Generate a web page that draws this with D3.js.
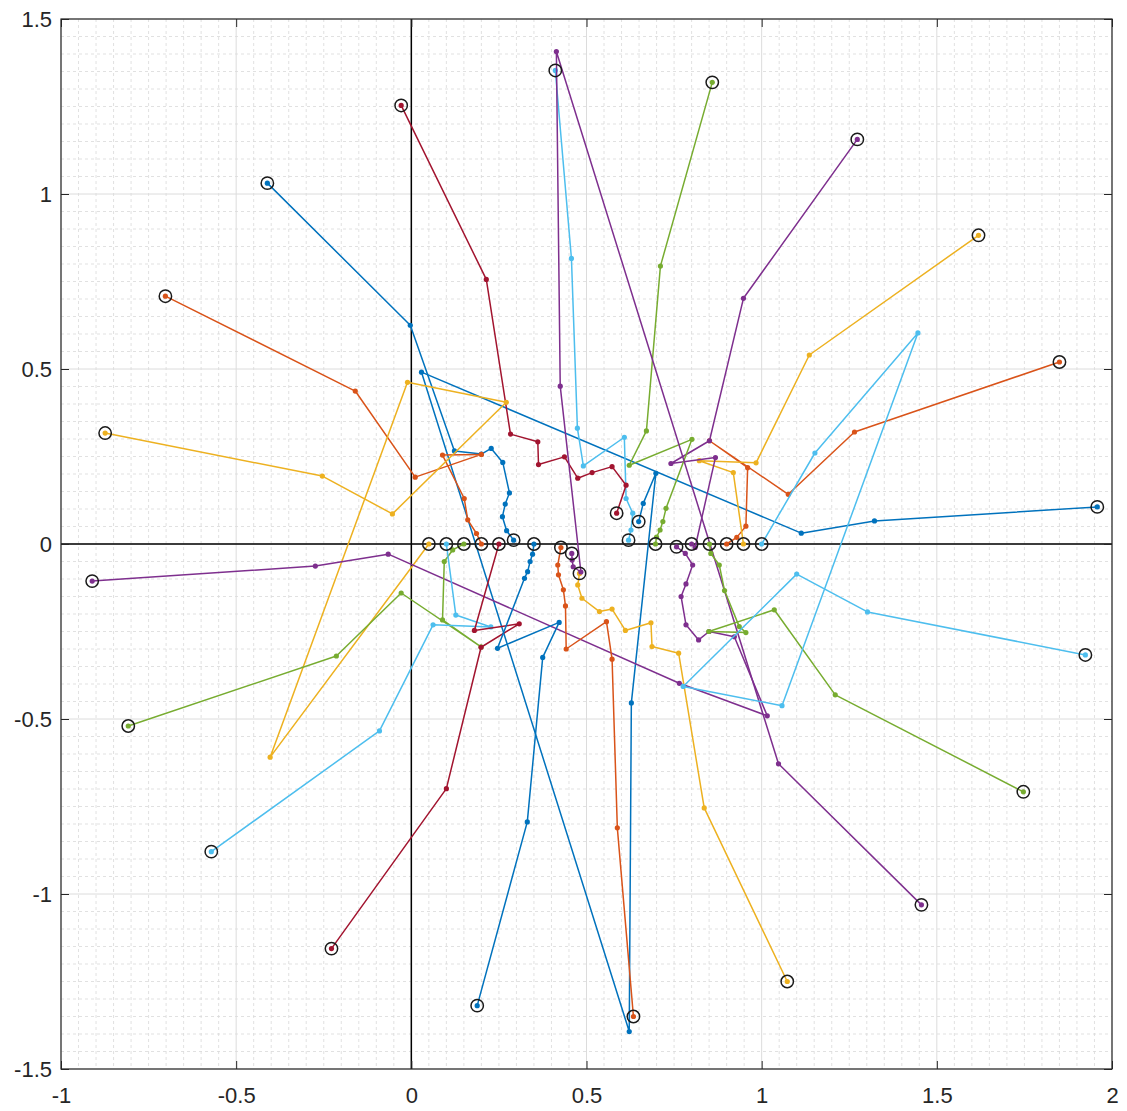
<!DOCTYPE html>
<html lang="en">
<head>
<meta charset="UTF-8">
<title>Trajectories</title>
<script src="https://cdn.jsdelivr.net/npm/d3@7"></script>
<style>
    body { margin: 0; background: #fff; }
    .tick text { font-family: "Liberation Sans", Arial, sans-serif; font-size: 22px; fill: #262626; }
</style>
</head>
<body>
<div id="chart"></div>
<script>
// tick labels
var xTicks = [-1, -0.5, 0, 0.5, 1, 1.5, 2];
var yTicks = [-1.5, -1, -0.5, 0, 0.5, 1, 1.5];

// series colors (cycle order)
var colors = ["#0072BD", "#D95319", "#EDB120", "#7E2F8E", "#77AC30", "#4DBEEE", "#A2142F"];

// trajectories: each is a list of [x, y], first = start, last = end
var t01 = [[1.958,0.106],[1.322,0.066],[1.113,0.031],[0.029,0.491],[0.622,-1.393],[0.628,-0.454],[0.698,0.202],[0.662,0.116],[0.649,0.064]];
var t02 = [[1.85,0.52],[1.265,0.32],[1.076,0.142],[0.851,0.295],[0.96,0.218],[0.955,0.051],[0.929,0.019],[0.9,0]];
var t03 = [[1.619,0.882],[1.136,0.54],[0.984,0.232],[0.822,0.238],[0.919,0.204],[0.948,0]];
var t04 = [[1.273,1.156],[0.948,0.702],[0.851,0.295],[0.741,0.23],[0.868,0.247],[0.81,-0.01],[0.8,0]];
var t05 = [[0.859,1.319],[0.711,0.794],[0.671,0.323],[0.622,0.225],[0.801,0.299],[0.727,0.102],[0.718,0.064],[0.71,0.04],[0.70,0.02],[0.697,0]];
var t06 = [[0.411,1.353],[0.457,0.816],[0.474,0.331],[0.491,0.223],[0.608,0.305],[0.613,0.13],[0.632,0.088],[0.627,0.04],[0.62,0.011]];
var t07 = [[-0.029,1.253],[0.214,0.756],[0.283,0.314],[0.361,0.292],[0.363,0.227],[0.437,0.249],[0.475,0.188],[0.516,0.204],[0.573,0.221],[0.613,0.168],[0.586,0.088]];
var t08 = [[-0.411,1.031],[-0.003,0.625],[0.123,0.266],[0.2,0.257],[0.228,0.273],[0.261,0.233],[0.28,0.146],[0.268,0.114],[0.26,0.078],[0.272,0.038],[0.292,0.011]];
var t09 = [[-0.702,0.708],[-0.16,0.437],[0.011,0.191],[0.2,0.256],[0.089,0.254],[0.151,0.13],[0.161,0.069],[0.186,0.03],[0.2,0]];
var t10 = [[-0.874,0.317],[-0.254,0.194],[-0.054,0.086],[0.271,0.405],[-0.011,0.462],[-0.403,-0.609],[0.05,0]];
var t11 = [[-0.911,-0.106],[-0.274,-0.063],[-0.066,-0.029],[0.765,-0.398],[1.016,-0.491],[0.922,-0.265],[0.85,-0.25],[0.82,-0.274],[0.784,-0.231],[0.77,-0.15],[0.784,-0.114],[0.803,-0.06],[0.782,-0.027],[0.757,-0.008]];
var t12 = [[-0.808,-0.52],[-0.214,-0.32],[-0.029,-0.14],[0.199,-0.294],[0.089,-0.217],[0.094,-0.05],[0.118,-0.017],[0.15,0]];
var t13 = [[-0.571,-0.879],[-0.091,-0.534],[0.062,-0.231],[0.227,-0.237],[0.127,-0.203],[0.1,0]];
var t14 = [[-0.228,-1.156],[0.1,-0.699],[0.199,-0.295],[0.308,-0.228],[0.18,-0.247],[0.25,0]];
var t15 = [[0.188,-1.319],[0.331,-0.794],[0.375,-0.324],[0.422,-0.224],[0.246,-0.298],[0.323,-0.098],[0.332,-0.079],[0.339,-0.05],[0.346,-0.029],[0.35,0]];
var t16 = [[0.634,-1.35],[0.588,-0.811],[0.573,-0.329],[0.557,-0.222],[0.442,-0.3],[0.44,-0.177],[0.434,-0.131],[0.42,-0.088],[0.418,-0.06],[0.427,-0.01]];
var t17 = [[1.073,-1.25],[0.836,-0.754],[0.763,-0.312],[0.687,-0.293],[0.684,-0.225],[0.611,-0.247],[0.573,-0.186],[0.537,-0.193],[0.487,-0.155],[0.475,-0.117],[0.48,-0.084]];
var t18 = [[1.456,-1.031],[1.048,-0.628],[0.414,1.407],[0.425,0.451],[0.484,-0.08],[0.462,-0.065],[0.459,-0.046],[0.458,-0.027]];
var t19 = [[1.747,-0.708],[1.21,-0.431],[1.036,-0.188],[0.849,-0.25],[0.955,-0.253],[0.936,-0.236],[0.894,-0.133],[0.879,-0.06],[0.855,-0.027],[0.851,0]];
var t20 = [[1.924,-0.317],[1.302,-0.194],[1.1,-0.086],[0.776,-0.407],[1.058,-0.462],[1.446,0.603],[1.152,0.26],[1.0,0]];

var trajectories = [t01,t02,t03,t04,t05,t06,t07,t08,t09,t10,t11,t12,t13,t14,t15,t16,t17,t18,t19,t20];

var W = 1127, H = 1111;
var margin = { top: 19, right: 15, bottom: 42, left: 61 };
var width = W - margin.left - margin.right,
    height = H - margin.top - margin.bottom;

var x = d3.scaleLinear().domain([-1, 2]).range([0, width]);
var y = d3.scaleLinear().domain([-1.5, 1.5]).range([height, 0]);

var svg = d3.select("#chart").append("svg")
    .attr("width", W)
    .attr("height", H)
  .append("g")
    .attr("transform", "translate(" + margin.left + "," + margin.top + ")");

// minor grid
var minorX = d3.range(-1, 2.0001, 0.05).filter(function(v) { return Math.abs(v * 2 - Math.round(v * 2)) > 1e-6; });
var minorY = d3.range(-1.5, 1.5001, 0.05).filter(function(v) { return Math.abs(v * 2 - Math.round(v * 2)) > 1e-6; });

svg.append("g").selectAll("line").data(minorX).enter().append("line")
    .attr("x1", function(d) { return x(d); }).attr("x2", function(d) { return x(d); })
    .attr("y1", 0).attr("y2", height)
    .attr("stroke", "#d9d9d9").attr("stroke-width", 0.8).attr("stroke-dasharray", "3,3");
svg.append("g").selectAll("line").data(minorY).enter().append("line")
    .attr("y1", function(d) { return y(d); }).attr("y2", function(d) { return y(d); })
    .attr("x1", 0).attr("x2", width)
    .attr("stroke", "#d9d9d9").attr("stroke-width", 0.8).attr("stroke-dasharray", "3,3");

// major grid
svg.append("g").selectAll("line").data(xTicks).enter().append("line")
    .attr("x1", function(d) { return x(d); }).attr("x2", function(d) { return x(d); })
    .attr("y1", 0).attr("y2", height)
    .attr("stroke", "#dcdcdc").attr("stroke-width", 1);
svg.append("g").selectAll("line").data(yTicks).enter().append("line")
    .attr("y1", function(d) { return y(d); }).attr("y2", function(d) { return y(d); })
    .attr("x1", 0).attr("x2", width)
    .attr("stroke", "#dcdcdc").attr("stroke-width", 1);

// zero lines
svg.append("line").attr("x1", x(0)).attr("x2", x(0)).attr("y1", 0).attr("y2", height)
    .attr("stroke", "#000").attr("stroke-width", 1.5);
svg.append("line").attr("x1", 0).attr("x2", width).attr("y1", y(0)).attr("y2", y(0))
    .attr("stroke", "#000").attr("stroke-width", 1.5);

// axes
var xAxis = svg.append("g").attr("transform", "translate(0," + height + ")")
    .call(d3.axisBottom(x).tickValues(xTicks).tickFormat(String).tickSize(-8).tickPadding(18));
var yAxis = svg.append("g")
    .call(d3.axisLeft(y).tickValues(yTicks).tickFormat(String).tickSize(-8).tickPadding(9));
svg.append("g").call(d3.axisTop(x).tickValues(xTicks).tickFormat("").tickSize(-8));
svg.append("g").attr("transform", "translate(" + width + ",0)")
    .call(d3.axisRight(y).tickValues(yTicks).tickFormat("").tickSize(-8));
svg.selectAll(".domain").remove();
svg.selectAll(".tick line").attr("stroke", "#262626");
yAxis.selectAll(".tick text").attr("dy", "0.36em");

// trajectories
var line = d3.line().x(function(d) { return x(d[0]); }).y(function(d) { return y(d[1]); });

var groups = svg.append("g").selectAll("g.traj").data(trajectories).enter().append("g")
    .attr("class", "traj");

groups.append("path")
    .attr("d", line)
    .attr("fill", "none")
    .attr("stroke", function(d, i) { return colors[i % colors.length]; })
    .attr("stroke-width", 1.5)
    .attr("stroke-linejoin", "round");

groups.each(function(d, i) {
    d3.select(this).selectAll("circle.pt").data(d).enter().append("circle")
        .attr("class", "pt")
        .attr("cx", function(p) { return x(p[0]); })
        .attr("cy", function(p) { return y(p[1]); })
        .attr("r", 2.6)
        .attr("fill", colors[i % colors.length]);
});

// start / end rings
var ends = [];
trajectories.forEach(function(t) { ends.push(t[0]); ends.push(t[t.length - 1]); });
svg.append("g").selectAll("circle").data(ends).enter().append("circle")
    .attr("cx", function(p) { return x(p[0]); })
    .attr("cy", function(p) { return y(p[1]); })
    .attr("r", 6.2)
    .attr("fill", "none")
    .attr("stroke", "#1a1a1a")
    .attr("stroke-width", 1.5);

// frame
svg.append("rect").attr("x", 0).attr("y", 0).attr("width", width).attr("height", height)
    .attr("fill", "none").attr("stroke", "#262626").attr("stroke-width", 1.2);
</script>
</body>
</html>
